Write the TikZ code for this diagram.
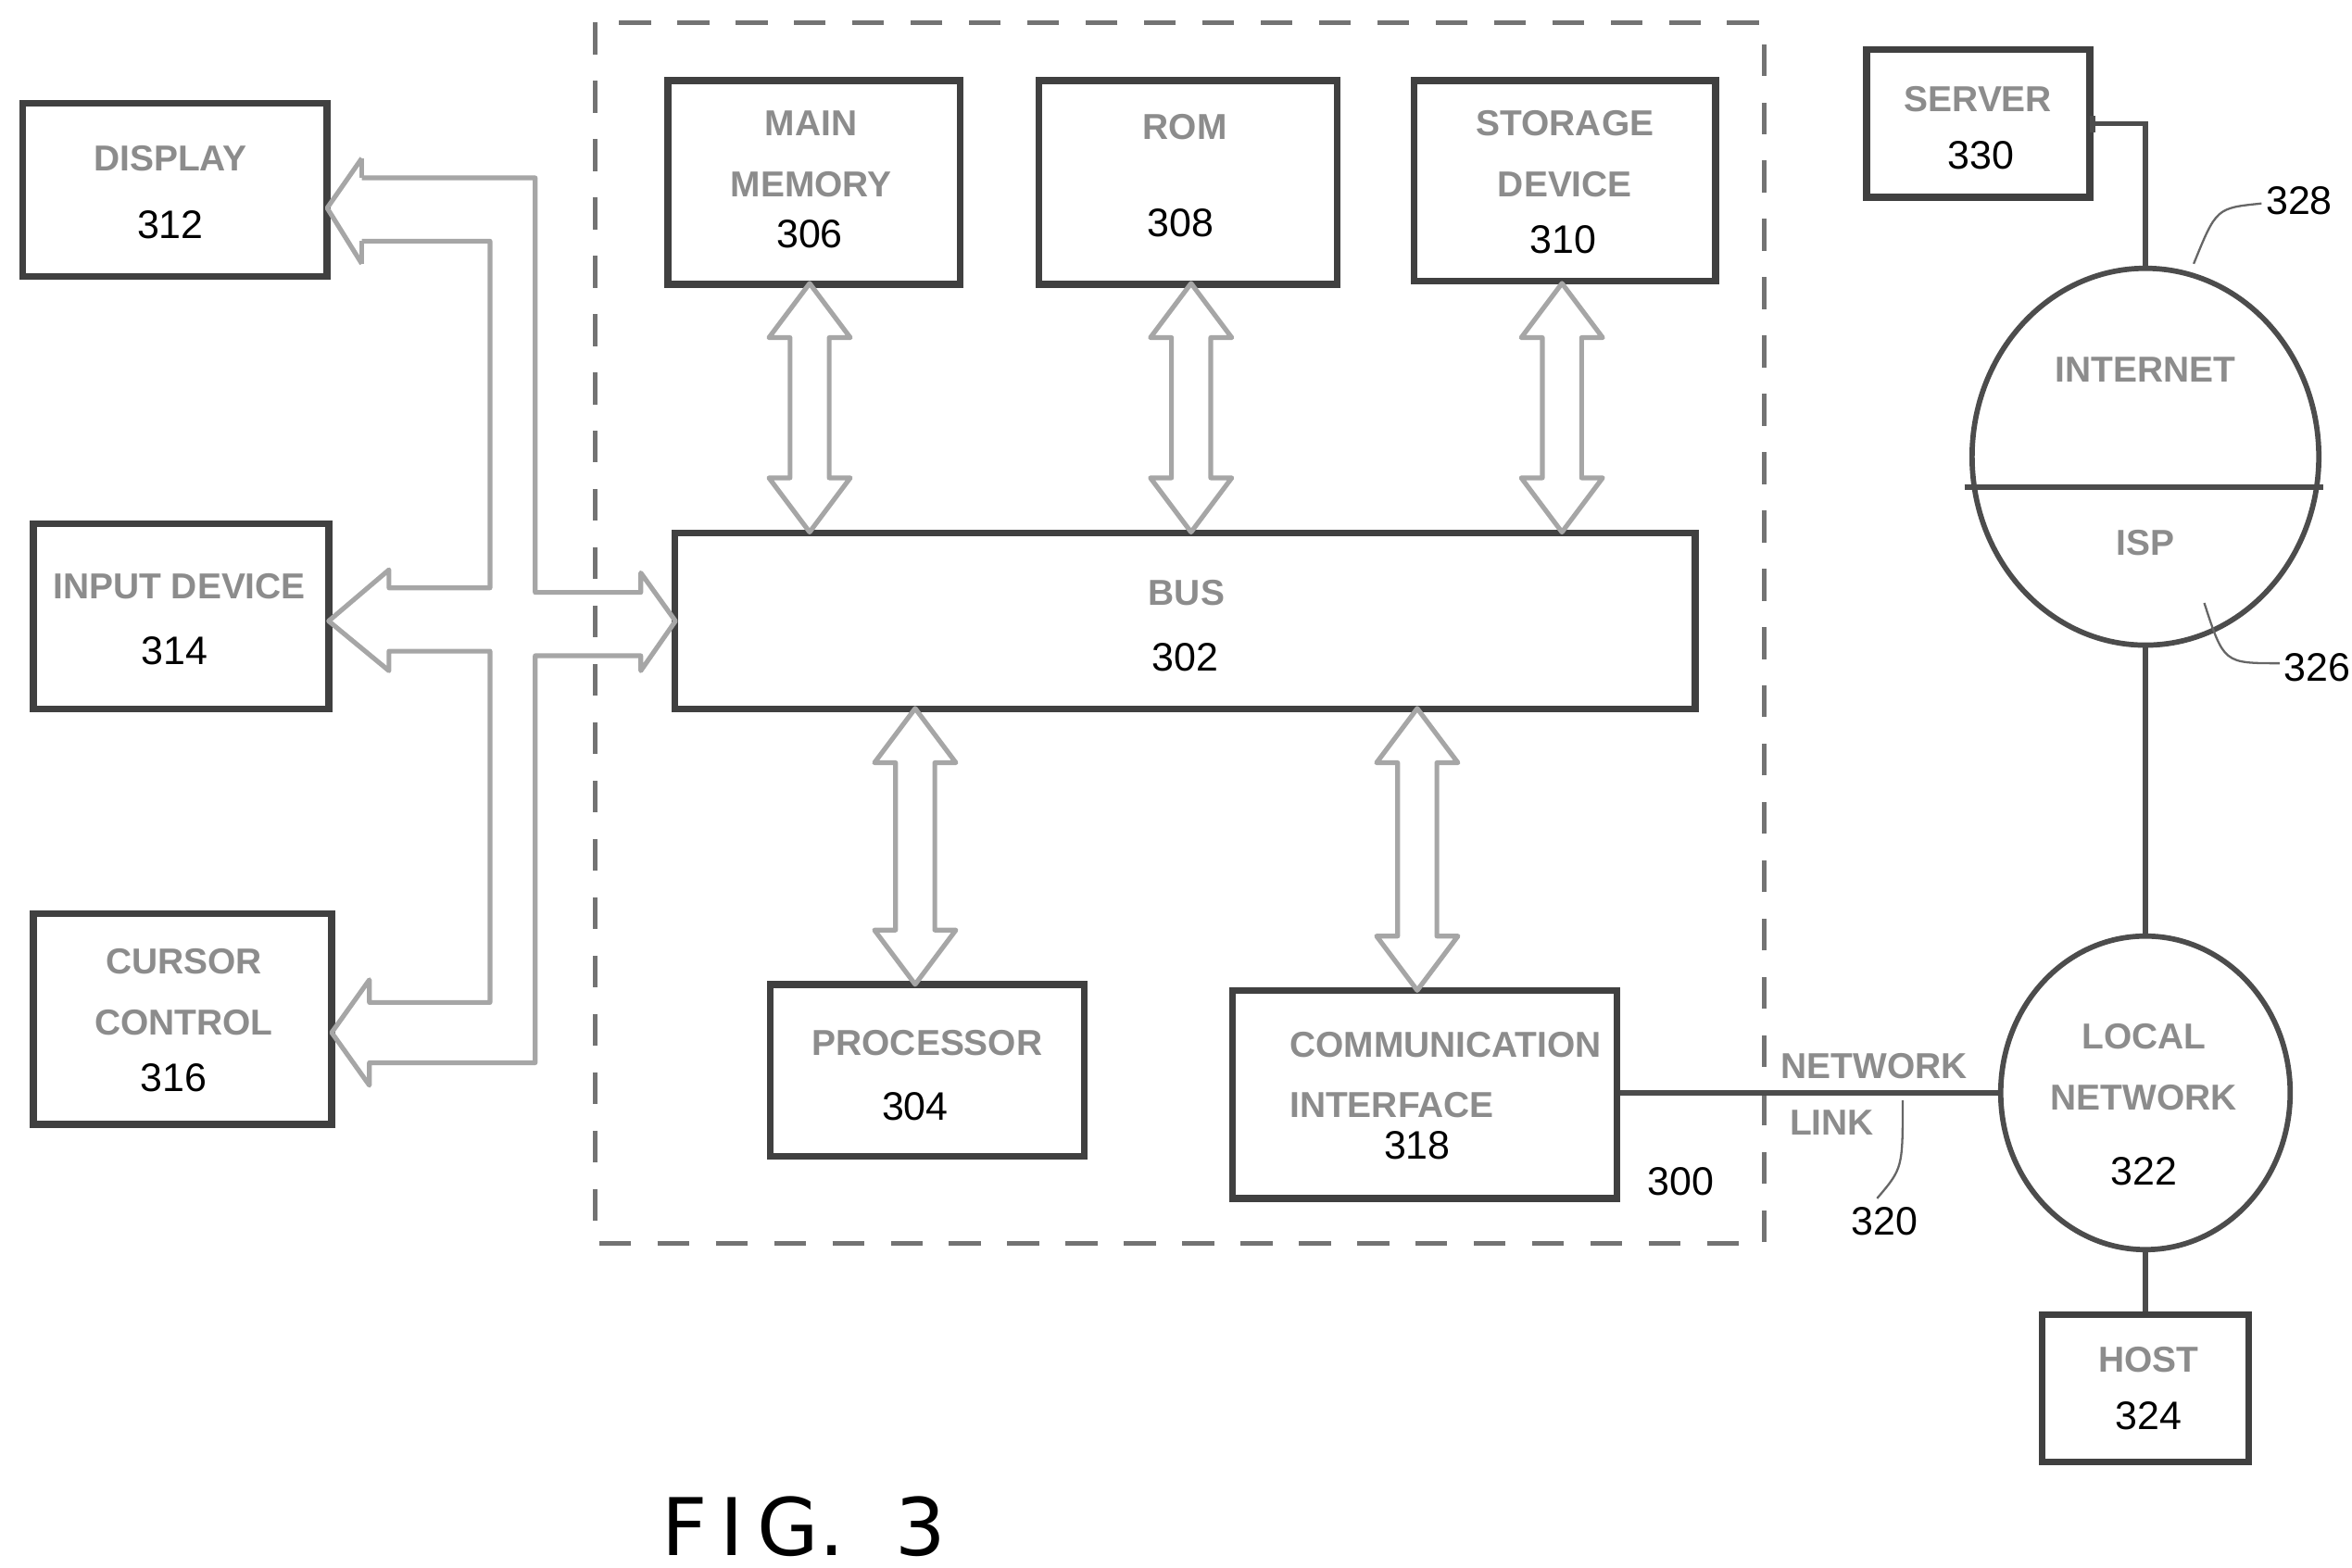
\documentclass[tikz,border=0pt]{standalone}
\usepackage{fontspec}
\setmainfont{Liberation Sans}
\newfontfamily\figfont{DejaVu Sans}
\begin{document}
\begin{tikzpicture}[x=0.01cm,y=-0.01cm,
 box/.style 2 args={draw=black!75,line width=1.3pt,fill=white,minimum width=#1*0.01cm,minimum height=#2*0.01cm,inner sep=0pt},
 lbl/.style={font=\fontsize{6.8}{11.5}\selectfont\bfseries,text=black!45,align=center},
 num/.style={font=\fontsize{7.5}{10}\selectfont,text=black},
 arr/.style={draw=black!35,line width=0.9pt,fill=white,line join=round},
 ln/.style={draw=black!70,line width=1pt}]
\useasboundingbox (0,0) rectangle (1560,1040);
\draw[black!55,line width=0.9pt,dash pattern=on 6pt off 5pt] (395,15) rectangle (1170,825);
\newcommand\vdarr[3]{\draw[arr] (#1,#2) -- (#1+27,#2+36) -- (#1+13,#2+36) -- (#1+13,#3-36) -- (#1+27,#3-36) -- (#1,#3) -- (#1-27,#3-36) -- (#1-13,#3-36) -- (#1-13,#2+36) -- (#1-27,#2+36) -- cycle;}
% boxes
\node[box={202}{115}] (disp) at (116,126) {};
\node[box={196}{123}] (inp) at (120,409) {};
\node[box={198}{140}] (cur) at (121,676) {};
\node[box={194}{135}] (mm) at (540,121) {};
\node[box={198}{135}] (rom) at (788,121) {};
\node[box={200}{133}] (sto) at (1038,120) {};
\node[box={677}{117}] (bus) at (786,412) {};
\node[box={208}{114}] (proc) at (615,710) {};
\node[box={255}{138}] (comm) at (945,726) {};
\node[box={148}{98}] (srv) at (1312,82) {};
\node[box={137}{98}] (host) at (1423,921) {};
% texts
\node[lbl] at (113,105) {DISPLAY}; \node[num] at (113,149) {312};
\node[lbl] at (119,389) {INPUT DEVICE}; \node[num] at (116,432) {314};
\node[lbl] at (122,658) {CURSOR\\CONTROL}; \node[num] at (115,715) {316};
\node[lbl] at (538,102) {MAIN\\MEMORY}; \node[num] at (537,155) {306};
\node[lbl] at (786,84) {ROM}; \node[num] at (783,148) {308};
\node[lbl] at (1038,102) {STORAGE\\DEVICE}; \node[num] at (1037,159) {310};
\node[lbl] at (787,393) {BUS}; \node[num] at (786,436) {302};
\node[lbl] at (615,692) {PROCESSOR}; \node[num] at (607,734) {304};
\node[lbl,align=left,anchor=north west] at (843,672) {COMMUNICATION\\INTERFACE}; \node[num] at (940,760) {318};
\node[lbl] at (1312,66) {SERVER}; \node[num] at (1314,103) {330};
\node[lbl] at (1425,902) {HOST}; \node[num] at (1425,939) {324};
\node[num] at (1115,784) {300};
% vertical double arrows
\vdarr{537}{188}{353}
\vdarr{790}{188}{353}
\vdarr{1036}{188}{353}
\vdarr{607}{470}{653}
\vdarr{940}{470}{657}
% left tree
\draw[arr,fill=none] (240,105) -- (217,138) -- (240,175) (240,118) -- (355,118) -- (355,393) -- (425,393) -- (425,380) -- (448,412) -- (425,445) -- (425,435) -- (355,435) -- (355,705) -- (245,705) -- (245,720) -- (220,685) -- (245,650) -- (245,665) -- (325,665) -- (325,432) -- (258,432) -- (258,445) -- (218,412) -- (258,378) -- (258,390) -- (325,390) -- (325,160) -- (240,160);
\draw[arr,fill=none] (240,105) -- (240,118) (240,160) -- (240,175);
% circles
\draw[ln] (1423,303) ellipse (115 and 125);
\node[lbl] (inet) at (1423,245) {INTERNET};
\node[lbl] (isp) at (1423,360) {ISP};
\draw[ln] (1303,323) -- (1541,323);
\draw[ln] (1423,725) ellipse (96 and 104);
\node[lbl] at (1422,708) {LOCAL\\NETWORK}; \node[num] at (1422,777) {322};
\coordinate (itop) at (1423,178);
\coordinate (ibot) at (1423,428);
\coordinate (ltop) at (1423,621);
\coordinate (lbot) at (1423,829);
\coordinate (lleft) at (1327,725);
\draw[ln] (srv.east |- 0,82) -- (1423,82) -- (itop);
\draw[ln] (1388,77) -- (1388,88);
\draw[ln] (ibot) -- (ltop);
\draw[ln] (lbot) -- (host.north);
\draw[ln] (comm.east |- lleft) -- (lleft);
\node[lbl] at (1243,707) {NETWORK}; \node[lbl] at (1215,745) {LINK};
\node[num] (n320) at (1250,810) {320};
\draw[black!60,thin] (1245,795) .. controls (1262,775) .. (1262,730);
\node[num] at (1525,133) {328};
\draw[black!60,thin] (1500,135) .. controls (1470,138) .. (1455,175);
\node[num] at (1537,443) {326};
\draw[black!60,thin] (1512,440) .. controls (1475,440) .. (1462,400);
\node[font=\figfont\fontsize{15}{18}\selectfont] at (533,1013) {F\,I\,G.\ \ 3};
\end{tikzpicture}
\end{document}
